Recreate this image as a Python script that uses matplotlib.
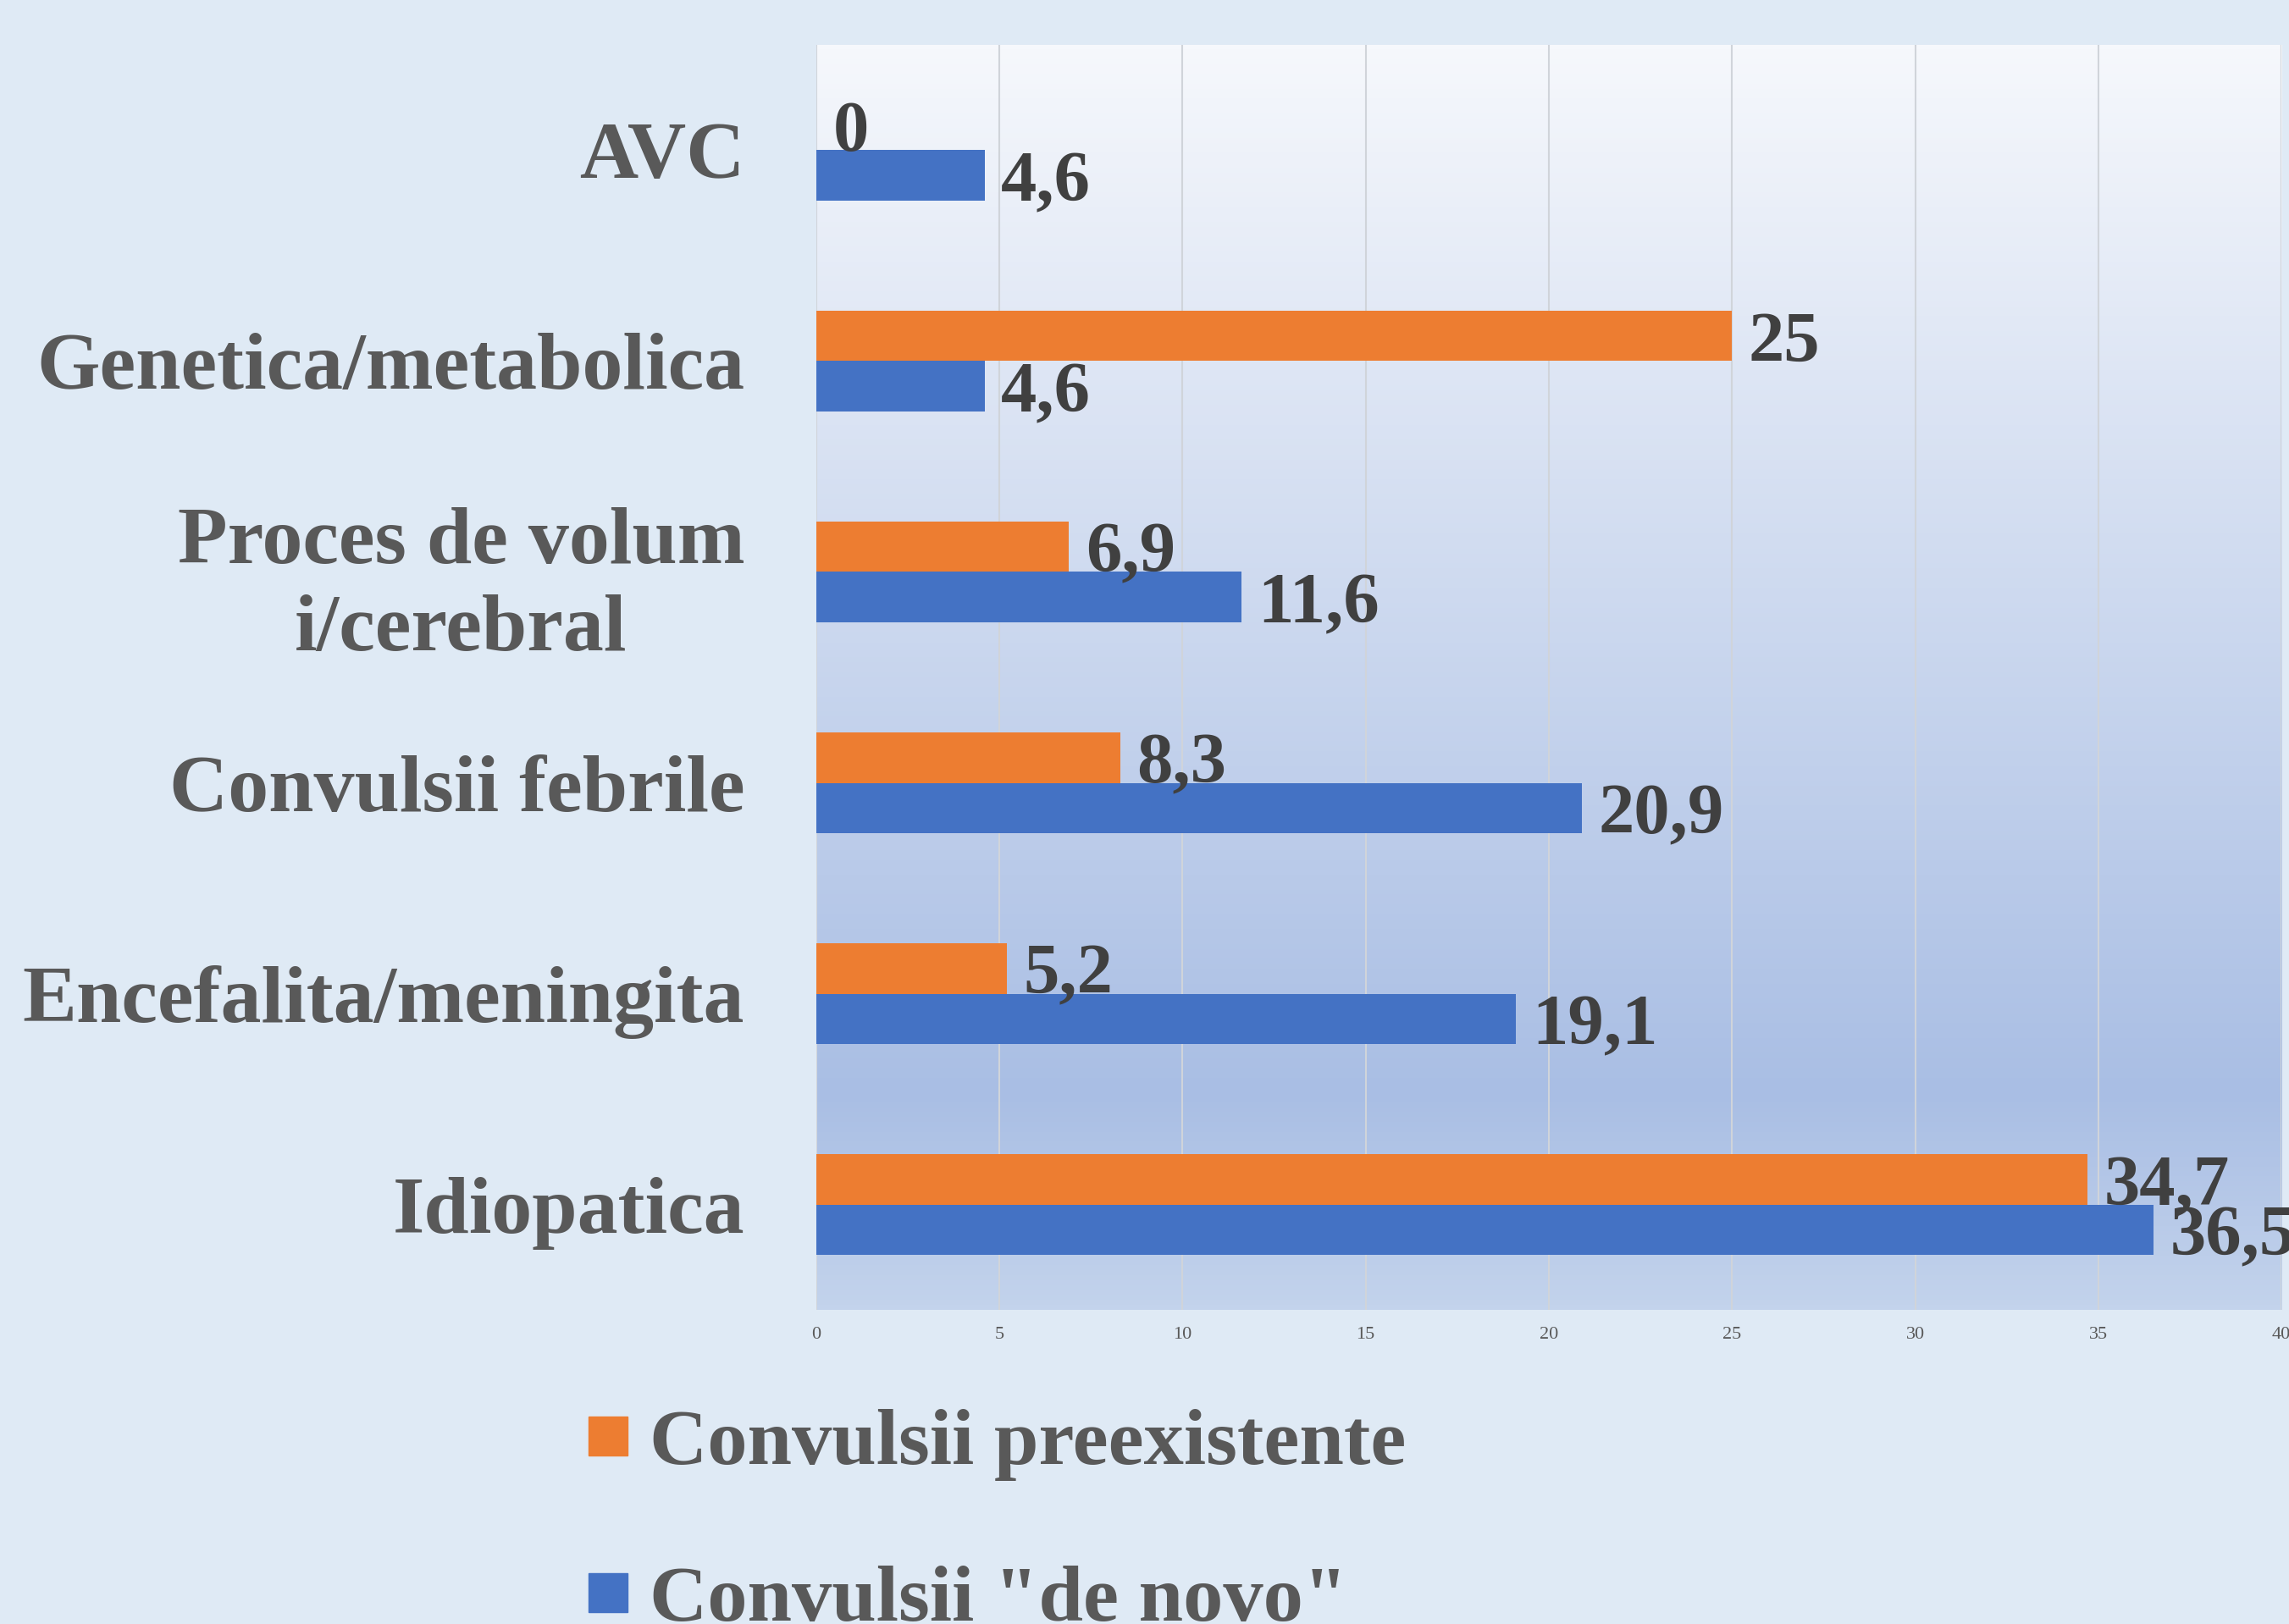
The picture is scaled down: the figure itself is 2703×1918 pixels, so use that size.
import numpy as np
import matplotlib.pyplot as plt
from matplotlib.colors import LinearSegmentedColormap
from matplotlib.lines import Line2D

# data (bottom -> top, as drawn)
categories = [
    "Idiopatica",
    "Encefalita/meningita",
    "Convulsii febrile",
    "Proces de volum\ni/cerebral",
    "Genetica/metabolica",
    "AVC",
]
preexistente = [34.7, 5.2, 8.3, 6.9, 25, 0]
de_novo = [36.5, 19.1, 20.9, 11.6, 4.6, 4.6]
series_names = ["Convulsii preexistente", 'Convulsii "de novo"']
x_ticks = [0, 5, 10, 15, 20, 25, 30, 35, 40]

bg = "#DFEAF5"
orange = "#ED7D31"
blue = "#4472C4"
serif = "Liberation Serif"


def fmt(v):
    return f"{v:g}".replace(".", ",")


fig = plt.figure(figsize=(27.03, 19.18), dpi=100, facecolor=bg)
ax = fig.add_axes([0.3566, 0.1934, 0.6401, 0.7790])
ax.set_facecolor(bg)

# gradient fill of the plot area
cmap = LinearSegmentedColormap.from_list(
    "plotfill", [(0.0, "#C3D3EC"), (0.17, "#A9BEE4"), (1.0, "#F6F8FC")]
)
grad = np.linspace(0, 1, 256).reshape(-1, 1)
ax.imshow(grad, extent=[0, 1, 0, 1], transform=ax.transAxes, aspect="auto",
          cmap=cmap, origin="lower", zorder=-1)

y = np.arange(len(categories))
h = 0.24
bars_o = ax.barh(y + h / 2, preexistente, height=h, color=orange, zorder=3)
bars_b = ax.barh(y - h / 2, de_novo, height=h, color=blue, zorder=3)

ax.set_xlim(0, 40)
ax.set_ylim(-0.5, len(categories) - 0.5)

label_kw = dict(padding=14, fontsize=61, fontweight="bold", color="#404040",
                family=serif)
texts = ax.bar_label(bars_o, labels=[fmt(v) for v in preexistente], **label_kw)
texts += ax.bar_label(bars_b, labels=[fmt(v) for v in de_novo], **label_kw)
for t in texts:
    t.xyann = (14, -7)

ax.set_axisbelow(True)
ax.grid(axis="x", color="#D0D4DA", linewidth=1.5)
ax.grid(axis="y", visible=False)
for s in ax.spines.values():
    s.set_visible(False)

ax.set_xticks(x_ticks)
ax.set_xticklabels([str(t) for t in x_ticks], family=serif, fontsize=16,
                   color="#595959")
ax.tick_params(axis="x", length=0, pad=14)

ax.set_yticks(y)
ax.set_yticklabels(categories, family=serif, fontsize=69, fontweight="bold",
                   color="#595959")
ax.tick_params(axis="y", length=0, pad=61)
for t in ax.get_yticklabels():
    t.set_multialignment("center")
    t.set_linespacing(1.25)

handles = [
    Line2D([], [], marker="s", linestyle="none", markersize=33, color=orange),
    Line2D([], [], marker="s", linestyle="none", markersize=33, color=blue),
]
fig.legend(handles, series_names, loc="upper left",
           bbox_to_anchor=(0.2553, 0.133), frameon=False,
           prop={"family": serif, "weight": "bold", "size": 68},
           labelcolor="#595959", handlelength=0.6, handletextpad=0.21,
           labelspacing=1.05, borderpad=0, borderaxespad=0)

fig.savefig("out.png", dpi=100, facecolor=bg)
